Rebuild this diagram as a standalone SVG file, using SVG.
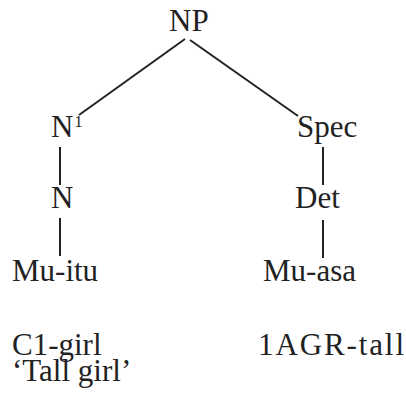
<svg xmlns="http://www.w3.org/2000/svg" width="406" height="396" viewBox="0 0 406 396">
<style>
text{font-family:"Liberation Serif","Times New Roman",serif;font-size:31px;fill:#222}
.sup{font-size:16px}
.edge{stroke:#222;stroke-width:2;fill:none}
</style>
<rect width="406" height="396" fill="#fff"/>
<g id="connectors">
<line class="edge" x1="185" y1="39" x2="79" y2="115"/>
<line class="edge" x1="190" y1="40" x2="298" y2="116"/>
<line class="edge" x1="60" y1="147" x2="60" y2="185"/>
<line class="edge" x1="323" y1="147" x2="323" y2="185"/>
<line class="edge" x1="60" y1="218" x2="60" y2="256"/>
<line class="edge" x1="323" y1="220" x2="323" y2="258"/>
</g>
<g id="NP"><text x="169" y="31">NP</text></g>
<g id="N1"><text x="51" y="137">N<tspan class="sup" dy="-10" dx="1">1</tspan></text></g>
<g id="Spec"><text x="297" y="137">Spec</text></g>
<g id="N"><text x="51" y="208">N</text></g>
<g id="Det"><text x="295" y="208">Det</text></g>
<g id="Mu-itu"><text x="12" y="281">Mu-itu</text></g>
<g id="Mu-asa"><text x="263" y="281">Mu-asa</text></g>
<g id="gloss-left"><text x="12" y="355">C1-girl</text><text x="12" y="381">‘Tall girl’</text></g>
<g id="gloss-right"><text x="258" y="355" textLength="146" lengthAdjust="spacing">1AGR-tall</text></g>
</svg>
